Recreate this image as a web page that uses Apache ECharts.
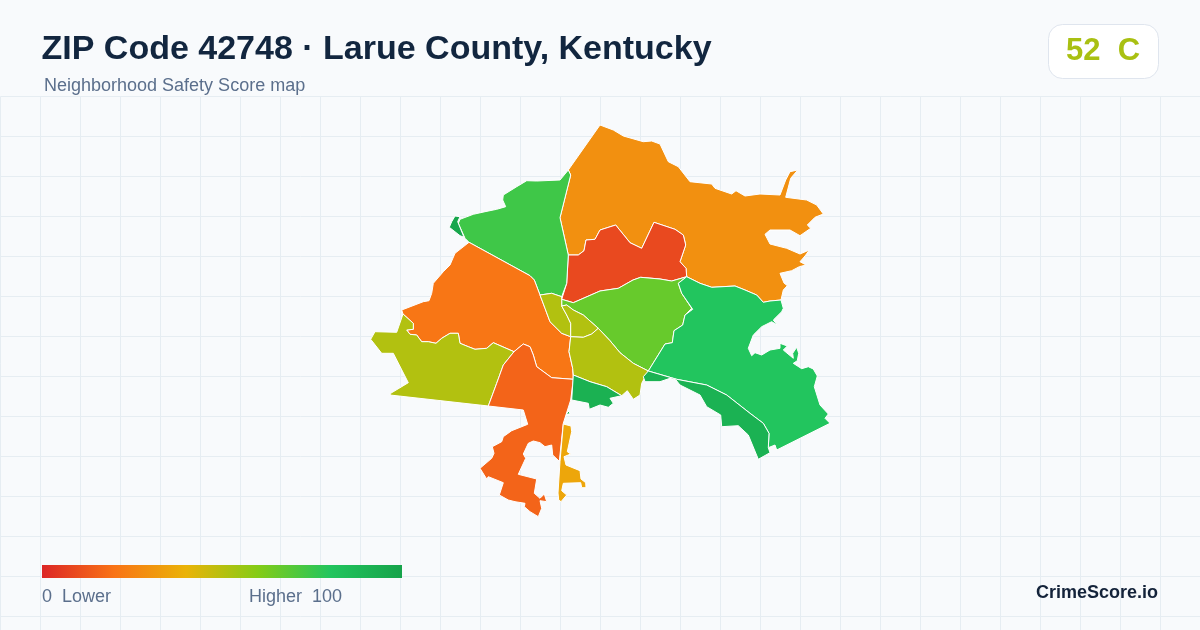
<!DOCTYPE html>
<html lang="en">
<head>
    <meta charset="UTF-8">
    <title>ZIP Code 42748</title>
    <style>
        html, body { margin: 0; padding: 0; background: #f8fafc; }
    </style>
</head>
<body>
<div id="main" style="width: 1200px;height:630px;"></div>
<script src="https://cdn.jsdelivr.net/npm/echarts@6/dist/echarts.min.js"></script>
<script>
    // area names and scores, same order as the outlines below
    var areaNames = ['north_east', 'center_north', 'north_west', 'nw_sliver', 'west', 'far_west', 'south', 'south_strip',
        'center_east', 'core_a', 'core_b', 'core_c', 'south_core', 'east', 'south_east'];
    var areaScores = [29, 9, 74, 98, 21, 51, 16, 36, 66, 51, 51, 51, 92, 80, 91];

    var legendColors = ['#dc2626', '#f97316', '#eab308', '#84cc16', '#22c55e', '#16a34a'];

    // outlines (map units, y grows downward)
    var northEast = [[568.3,170],[600,125],[613.3,130],[623.3,136],[643.3,141.7],[651.7,141],[660,144],[668.3,161.7],[678.3,166.7],[690,181.7],[711.7,184],[715,188.3],[731.7,194],[736,190.7],[745,196],[760,194],[780,195],[785.7,180],[790,171.7],[797.7,170],[790.7,178.3],[785.7,197.3],[806.7,200],[816.7,205],[823.3,214],[815,217.3],[807.3,225],[810.7,228.3],[800,235.7],[790,230],[770,230],[765,234.3],[770,244],[786.7,248.3],[800,254],[809.3,250],[805,256],[800,261.7],[806,265],[799.3,266.7],[791.7,270.7],[780,273.3],[784,283],[787.3,285.7],[783.3,290],[781,300],[770,301],[763.3,302.3],[756.7,295],[745,290],[735,286],[711.7,287.3],[700,283.3],[686.7,276.7],[686,268.3],[680,261.7],[685.7,245],[683.3,235],[675,229.3],[654,222.3],[641.7,248.3],[630,242.7],[615.7,225],[600,230],[595,239.3],[586,240],[584,250.7],[578.3,255],[568.3,255],[560,217.7],[570.7,175]];
    var centerNorth = [[568.3,255],[578.3,255],[584,250.7],[586,240],[595,239.3],[600,230],[615.7,225],[630,242.7],[641.7,248.3],[654,222.3],[675,229.3],[683.3,235],[685.7,245],[680,261.7],[686,268.3],[686.7,276.7],[671.7,281],[660,279],[640.7,277.3],[633,280],[618.3,288.3],[600,291],[573.3,302.7],[561.7,299.3],[566.7,283.3]];
    var northWest = [[568.3,170],[560,180],[536.7,181],[526.7,180.7],[516.7,186.7],[503.3,195],[502.7,200],[505.7,206.7],[496.7,209.3],[485,211.7],[473.3,214.3],[460,219.3],[458.3,223.3],[465,238.3],[469,242.3],[530,275.7],[534.3,280],[540,295],[551.7,293.3],[561.7,296.7],[566.7,283.3],[568.3,255],[560,217.7],[570.7,175]];
    var nwSliver = [[455,216],[460,216.7],[457.7,221.7],[464,237.3],[460,235.7],[449.3,227.3],[451.7,221.7]];
    var west = [[469,242.3],[530,275.7],[534.3,280],[540,295],[545,308.3],[550,321.7],[561.7,333.3],[570.7,336.7],[569,351.7],[572.7,368.3],[573.3,379.3],[551.7,377.7],[536.7,366.7],[533.3,355],[530,346.7],[523.3,344],[514,351.7],[493.3,342.7],[486.7,348.3],[475,349.3],[468.3,346.7],[460,343.3],[458.3,333.3],[450,333.3],[441.7,338.3],[436,343.3],[428.3,341.7],[421.7,341.7],[416.7,335],[410,334.3],[406.7,330],[413.3,329.3],[413.3,323.3],[403,314],[401.7,310],[423.3,301.7],[429,300.7],[431.7,293.3],[433.3,283.3],[443.3,271.7],[450,265],[455,253.3]];
    var farWest = [[403,314],[413.3,323.3],[413.3,329.3],[406.7,330],[410,334.3],[416.7,335],[421.7,341.7],[428.3,341.7],[436,343.3],[441.7,338.3],[450,333.3],[458.3,333.3],[460,343.3],[468.3,346.7],[475,349.3],[486.7,348.3],[493.3,342.7],[514,351.7],[503.3,365],[496.7,383.3],[488.3,406],[390,395],[390.7,393.3],[408.3,382.7],[393.3,353.3],[381.7,353.3],[370.7,339.3],[375,331.7],[396.7,332.3]];
    var south = [[514,351.7],[523.3,344],[530,346.7],[533.3,355],[536.7,366.7],[551.7,377.7],[573.3,379.3],[570.7,400],[563.3,423.3],[559.3,461.3],[552.7,455],[551.7,445],[545,446.7],[540,442.7],[533.3,441],[528.3,443.3],[523.3,454],[525.7,458.3],[518.3,474.3],[536.7,479],[534.3,493.3],[540,498.3],[544.3,494],[546.7,501.7],[540,500.7],[541.7,508.3],[538.3,516.7],[530,511.7],[524.3,506.7],[525,503.3],[515,501.7],[508.3,500],[499.3,495],[503.3,482.7],[488.3,476.7],[486.7,479],[480,468.3],[491.7,458.3],[494,453.3],[492.3,446.7],[501.7,441.7],[503.3,436.7],[511.7,430.7],[527.7,424.3],[523.3,410],[488.3,406],[496.7,383.3],[503.3,365]];
    var southStrip = [[563.3,424],[571,426],[571.7,431.7],[567.3,451.7],[570.7,454],[564,456.7],[566,465],[580,470.7],[581,479],[585.7,482.7],[586,487.7],[581.7,487.7],[580.7,482.7],[563.3,483.3],[561.7,490.7],[566.7,495],[561,501.7],[558.7,500],[558,493],[560,461.3]];
    var centerEast = [[686.7,276.7],[678.3,283.3],[681.7,293.3],[691.7,308.3],[692.7,309.3],[685,315],[682.7,325],[674,330.7],[672.3,342.7],[665,344],[648.3,371],[633.3,363.3],[620,352.7],[610,340.7],[598.3,328.3],[583.3,315],[573.3,310],[566.7,305],[561.7,306],[561.7,299.3],[573.3,302.7],[600,291],[618.3,288.3],[633,280],[640.7,277.3],[660,279],[671.7,281]];
    var coreA = [[540,295],[551.7,293.3],[561.7,296.7],[561.7,306],[566.7,315],[570.7,323.3],[570.7,336.7],[561.7,333.3],[550,321.7],[545,308.3]];
    var coreB = [[561.7,306],[566.7,305],[573.3,310],[583.3,315],[598.3,328.3],[591.7,334],[583.3,337.3],[570.7,336.7],[570.7,323.3],[566.7,315]];
    var coreC = [[570.7,336.7],[583.3,337.3],[591.7,334],[598.3,328.3],[610,340.7],[620,352.7],[633.3,363.3],[648.3,371],[641.7,383.3],[640,395],[633.3,399.3],[627.3,390.7],[621.7,395.7],[606.7,386.7],[590,381.7],[573.3,375],[572.7,368.3],[569,351.7]];
    var southCore = [[573.3,375],[590,381.7],[606.7,386.7],[621.7,395.7],[610,398.3],[613.3,403.3],[608.3,407.3],[600,405],[589.3,409.3],[588.3,403.3],[571.7,400]];
    var southCoreSpeck = [[566,414],[569,411],[570,414]];
    var east = [[686.7,276.7],[700,283.3],[711.7,287.3],[735,286],[745,290],[756.7,295],[763.3,302.3],[770,301],[781,300],[783.3,308.3],[781.7,311.7],[773.3,320],[777.3,325],[771.7,321.7],[761.7,326.7],[753.3,335],[748.3,348.3],[751.7,355.7],[755,352.7],[761.7,355],[770,350],[780,348.3],[780,343.3],[787.3,346],[783.3,350],[793.3,358.3],[792.7,353.3],[796.7,347.3],[798.7,353.3],[797.3,360.7],[793.3,363.3],[801.7,368.7],[808.3,366.7],[813.3,369],[817.3,376],[814.3,386.7],[820,405],[828.3,414],[825,418.3],[830,423.3],[776.7,450],[775,445],[768.3,447.7],[769,433.3],[763.3,423.3],[750,413.3],[726.7,395],[706.7,385],[676.7,379.3],[648.3,371],[665,344],[672.3,342.7],[674,330.7],[682.7,325],[685,315],[692.7,309.3],[691.7,308.3],[681.7,293.3],[678.3,283.3]];
    var southEast = [[648.3,371],[676.7,379.3],[706.7,385],[726.7,395],[750,413.3],[763.3,423.3],[769,433.3],[768.3,447.7],[770,452.7],[758.3,459.3],[748.3,435],[738.3,425.7],[721.7,426.7],[720.7,415],[706.7,406.7],[700,395],[680,385],[676,380],[670,378.3],[660,381.7],[645,381.7],[643.3,376.7]];

    var areaOutlines = [[northEast], [centerNorth], [northWest], [nwSliver], [west], [farWest], [south], [southStrip],
        [centerEast], [coreA], [coreB], [coreC], [southCore, southCoreSpeck], [east], [southEast]];

    function toFeature(name, rings) {
        return {
            type: 'Feature',
            properties: {name: name},
            geometry: {
                type: 'MultiPolygon',
                coordinates: rings.map(function (ring) {
                    var pts = ring.map(function (p) { return [p[0], -p[1]]; });
                    pts.push(pts[0]);
                    return [pts];
                })
            }
        };
    }

    var features = [];
    var mapData = [];
    for (var i = 0; i < areaNames.length; i++) {
        features.push(toFeature(areaNames[i], areaOutlines[i]));
        mapData.push({name: areaNames[i], value: areaScores[i]});
    }
    echarts.registerMap('zip42748', {type: 'FeatureCollection', features: features});

    // square legend bar, same stops as the visualMap
    var legendStops = legendColors.map(function (c, idx) {
        return {offset: idx / (legendColors.length - 1), color: c};
    });

    var fontName = '"Liberation Sans", Arial, sans-serif';
    var myChart = echarts.init(document.getElementById('main'));
    var option = {
        backgroundColor: '#f8fafc',
        animation: false,
        title: [
            {
                text: 'ZIP Code 42748 · Larue County, Kentucky',
                left: 41.5, top: 33, padding: 0,
                textStyle: {fontFamily: fontName, fontSize: 34, fontWeight: 'bold', color: '#12263f'}
            },
            {
                text: 'Neighborhood Safety Score map',
                left: 44, top: 77, padding: 0,
                textStyle: {fontFamily: fontName, fontSize: 18, fontWeight: 'normal', color: '#5b6f8c'}
            }
        ],
        grid: {left: 0.5, top: 96.5, width: 1199.5, height: 533.5},
        xAxis: {
            type: 'value', min: 0, max: 1199.5, interval: 40,
            axisLine: {show: false}, axisTick: {show: false}, axisLabel: {show: false},
            splitLine: {show: true, lineStyle: {color: '#e6edf2', width: 1}}
        },
        yAxis: {
            type: 'value', min: 0, max: 533.5, interval: 40, inverse: true,
            axisLine: {show: false}, axisTick: {show: false}, axisLabel: {show: false},
            splitLine: {show: true, lineStyle: {color: '#e6edf2', width: 1}}
        },
        visualMap: {
            type: 'continuous',
            show: false,
            seriesIndex: 0,
            min: 0,
            max: 100,
            inRange: {color: legendColors}
        },
        series: [
            {
                type: 'map',
                map: 'zip42748',
                roam: false,
                silent: true,
                selectedMode: false,
                aspectScale: 1,
                layoutCenter: [600.35, 320.85],
                layoutSize: 459.3,
                label: {show: false},
                itemStyle: {borderColor: '#ffffff', borderWidth: 1},
                emphasis: {disabled: true},
                data: mapData
            }
        ],
        graphic: [
            {
                type: 'rect', silent: true, z: 100,
                shape: {x: 1048.5, y: 24.5, width: 110, height: 54, r: 14},
                style: {fill: '#ffffff', stroke: '#dfe5ee', lineWidth: 1}
            },
            {
                type: 'text', silent: true, z: 101, x: 1103, y: 51.5,
                style: {text: '52  C', align: 'center', verticalAlign: 'middle', fill: '#a9c012',
                    font: 'bold 31px ' + fontName}
            },
            {
                type: 'rect', silent: true, z: 100,
                shape: {x: 42, y: 565, width: 360, height: 13},
                style: {fill: new echarts.graphic.LinearGradient(0, 0, 1, 0, legendStops)}
            },
            {
                type: 'text', silent: true, z: 100, x: 42, y: 597.5,
                style: {text: '0  Lower', align: 'left', verticalAlign: 'middle', fill: '#5b6f8c',
                    font: '18px ' + fontName}
            },
            {
                type: 'text', silent: true, z: 100, x: 249, y: 597.5,
                style: {text: 'Higher  100', align: 'left', verticalAlign: 'middle', fill: '#5b6f8c',
                    font: '18px ' + fontName}
            },
            {
                type: 'text', silent: true, z: 100, x: 1158, y: 593,
                style: {text: 'CrimeScore.io', align: 'right', verticalAlign: 'middle', fill: '#14233a',
                    font: 'bold 18px ' + fontName}
            }
        ]
    };
    myChart.setOption(option);
</script>
</body>
</html>
